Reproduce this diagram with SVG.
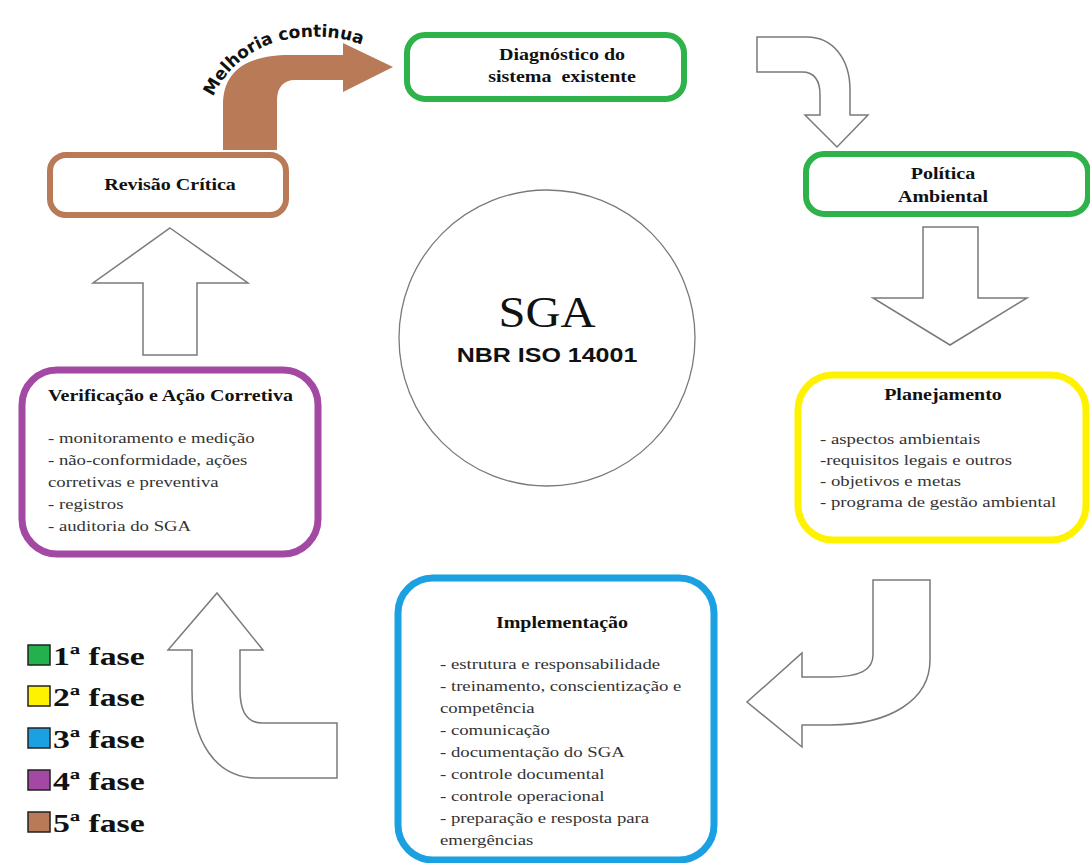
<svg xmlns="http://www.w3.org/2000/svg" width="1090" height="863" viewBox="0 0 1090 863">
<style>
.box{fill:#fff;}
.g{stroke:#2db34a;stroke-width:6;}
.y{stroke:#fff200;stroke-width:7;}
.b{stroke:#1ba1e2;stroke-width:7;}
.p{stroke:#a349a4;stroke-width:7;}
.br{stroke:#b97a57;stroke-width:6;}
.arr{fill:#fff;stroke:#7a7a7a;stroke-width:1.5;stroke-linejoin:miter;}
.t{font-family:"Liberation Serif","Times New Roman",serif;font-weight:bold;font-size:16px;fill:#111;}
.bd{font-family:"Liberation Serif","Times New Roman",serif;font-size:15px;fill:#333;}
.lg{font-family:"Liberation Serif","Times New Roman",serif;font-weight:bold;font-size:26px;fill:#111;}
.sw{stroke:#222;stroke-width:1.5;}
</style>
<defs>
<path id="arc" d="M 213,97 C 232,57 268,39 305,37 S 362,43 386,56"/>
</defs>
<rect width="1090" height="863" fill="#fff"/>

<g id="connectors">
  <path id="c-brown" d="M 223,150 L 223,105 C 223,72 245,55 290,55 L 343,55 L 343,43 L 393,67 L 343,92 L 343,80 L 295,80 C 283,80 277,88 277,100 L 277,150 Z" fill="#b97a57"/>
  <text font-family="'DejaVu Sans','Liberation Sans',sans-serif" font-weight="bold" font-size="17" fill="#111"><textPath href="#arc">Melhoria continua</textPath></text>
  <path id="c-topright" class="arr" d="M 757,37 L 807,37 C 832,37 850,58 850,90 L 850,115 L 868,115 L 837,147 L 805,115 L 820,115 L 820,95 C 820,80 814,72 802,72 L 757,72 Z"/>
  <path id="c-down" class="arr" d="M 923,227 L 978,227 L 978,298 L 1027,298 L 950,345 L 873,298 L 923,298 Z"/>
  <path id="c-botright" class="arr" d="M 873,580 L 930,580 L 930,660 C 930,700 890,725 830,725 L 802,725 L 802,747 L 747,702 L 802,653 L 802,677 L 830,677 C 860,677 873,670 873,655 Z"/>
  <path id="c-botleft" class="arr" d="M 217,593 L 263,650 L 240,650 L 240,690 C 240,712 248,723 262,723 L 337,723 L 337,778 L 257,778 C 215,778 192,740 192,690 L 192,650 L 168,650 Z"/>
  <path id="c-up" class="arr" d="M 170,228 L 248,283 L 197,283 L 197,355 L 143,355 L 143,283 L 93,283 Z"/>
</g>

<g id="center">
  <circle cx="547" cy="338" r="148" fill="#fff" stroke="#7a7a7a" stroke-width="1.3"/>
  <g transform="translate(547 0) scale(1.08 1)"><text x="0" y="327" text-anchor="middle" font-family="'Liberation Serif',serif" font-size="45" fill="#111">SGA</text></g>
  <g transform="translate(547 0) scale(1.25 1)"><text x="0" y="362" text-anchor="middle" font-family="'Liberation Sans',Arial,sans-serif" font-weight="bold" font-size="20" fill="#111">NBR ISO 14001</text></g>
</g>

<g id="diagnostico">
  <rect class="box g" x="407" y="35" width="277" height="64" rx="18"/>
  <g transform="translate(562 0) scale(1.25 1)">
    <text class="t" x="0" y="60" text-anchor="middle">Diagnóstico do</text>
    <text class="t" x="0" y="82" text-anchor="middle" xml:space="preserve">sistema  existente</text>
  </g>
</g>

<g id="politica">
  <rect class="box g" x="806" y="154" width="282" height="60" rx="18"/>
  <g transform="translate(943 0) scale(1.25 1)">
    <text class="t" x="0" y="179" text-anchor="middle">Política</text>
    <text class="t" x="0" y="202" text-anchor="middle">Ambiental</text>
  </g>
</g>

<g id="revisao">
  <rect class="box br" x="50" y="155" width="236" height="60" rx="16"/>
  <g transform="translate(170 0) scale(1.25 1)">
    <text class="t" x="0" y="190" text-anchor="middle">Revisão Crítica</text>
  </g>
</g>

<g id="planejamento">
  <rect class="box y" x="798" y="375" width="288" height="165" rx="35"/>
  <g transform="translate(943 0) scale(1.25 1)">
    <text class="t" x="0" y="400" text-anchor="middle">Planejamento</text>
  </g>
  <g transform="translate(820 0) scale(1.25 1)">
    <text class="bd" x="0" y="444">- aspectos ambientais</text>
    <text class="bd" x="0" y="465">-requisitos legais e outros</text>
    <text class="bd" x="0" y="486">- objetivos e metas</text>
    <text class="bd" x="0" y="507">- programa de gestão ambiental</text>
  </g>
</g>

<g id="implementacao">
  <rect class="box b" x="398" y="578" width="316" height="282" rx="35"/>
  <g transform="translate(562 0) scale(1.25 1)">
    <text class="t" x="0" y="628" text-anchor="middle">Implementação</text>
  </g>
  <g transform="translate(440 0) scale(1.25 1)">
    <text class="bd" x="0" y="669">- estrutura e responsabilidade</text>
    <text class="bd" x="0" y="691">- treinamento, conscientização e</text>
    <text class="bd" x="0" y="713">competência</text>
    <text class="bd" x="0" y="735">- comunicação</text>
    <text class="bd" x="0" y="757">- documentação do SGA</text>
    <text class="bd" x="0" y="779">- controle documental</text>
    <text class="bd" x="0" y="801">- controle operacional</text>
    <text class="bd" x="0" y="823">- preparação e resposta para</text>
    <text class="bd" x="0" y="845">emergências</text>
  </g>
</g>

<g id="verificacao">
  <rect class="box p" x="22" y="370" width="296" height="184" rx="35"/>
  <g transform="translate(48 0) scale(1.25 1)">
    <text class="t" x="0" y="401">Verificação e Ação Corretiva</text>
    <text class="bd" x="0" y="443">- monitoramento e medição</text>
    <text class="bd" x="0" y="465">- não-conformidade, ações</text>
    <text class="bd" x="0" y="487">corretivas e preventiva</text>
    <text class="bd" x="0" y="509">- registros</text>
    <text class="bd" x="0" y="531">- auditoria do SGA</text>
  </g>
</g>

<g id="legend">
  <rect class="sw" x="28" y="645" width="22" height="20" fill="#22b14c"/>
  <rect class="sw" x="28" y="686" width="22" height="20" fill="#fff200"/>
  <rect class="sw" x="28" y="728" width="22" height="20" fill="#1ba1e2"/>
  <rect class="sw" x="28" y="770" width="22" height="20" fill="#a349a4"/>
  <rect class="sw" x="28" y="812" width="22" height="20" fill="#b97a57"/>
  <g transform="translate(53 0) scale(1.3 1)">
    <text class="lg" x="0" y="665">1ª fase</text>
    <text class="lg" x="0" y="706">2ª fase</text>
    <text class="lg" x="0" y="748">3ª fase</text>
    <text class="lg" x="0" y="790">4ª fase</text>
    <text class="lg" x="0" y="832">5ª fase</text>
  </g>
</g>
</svg>
